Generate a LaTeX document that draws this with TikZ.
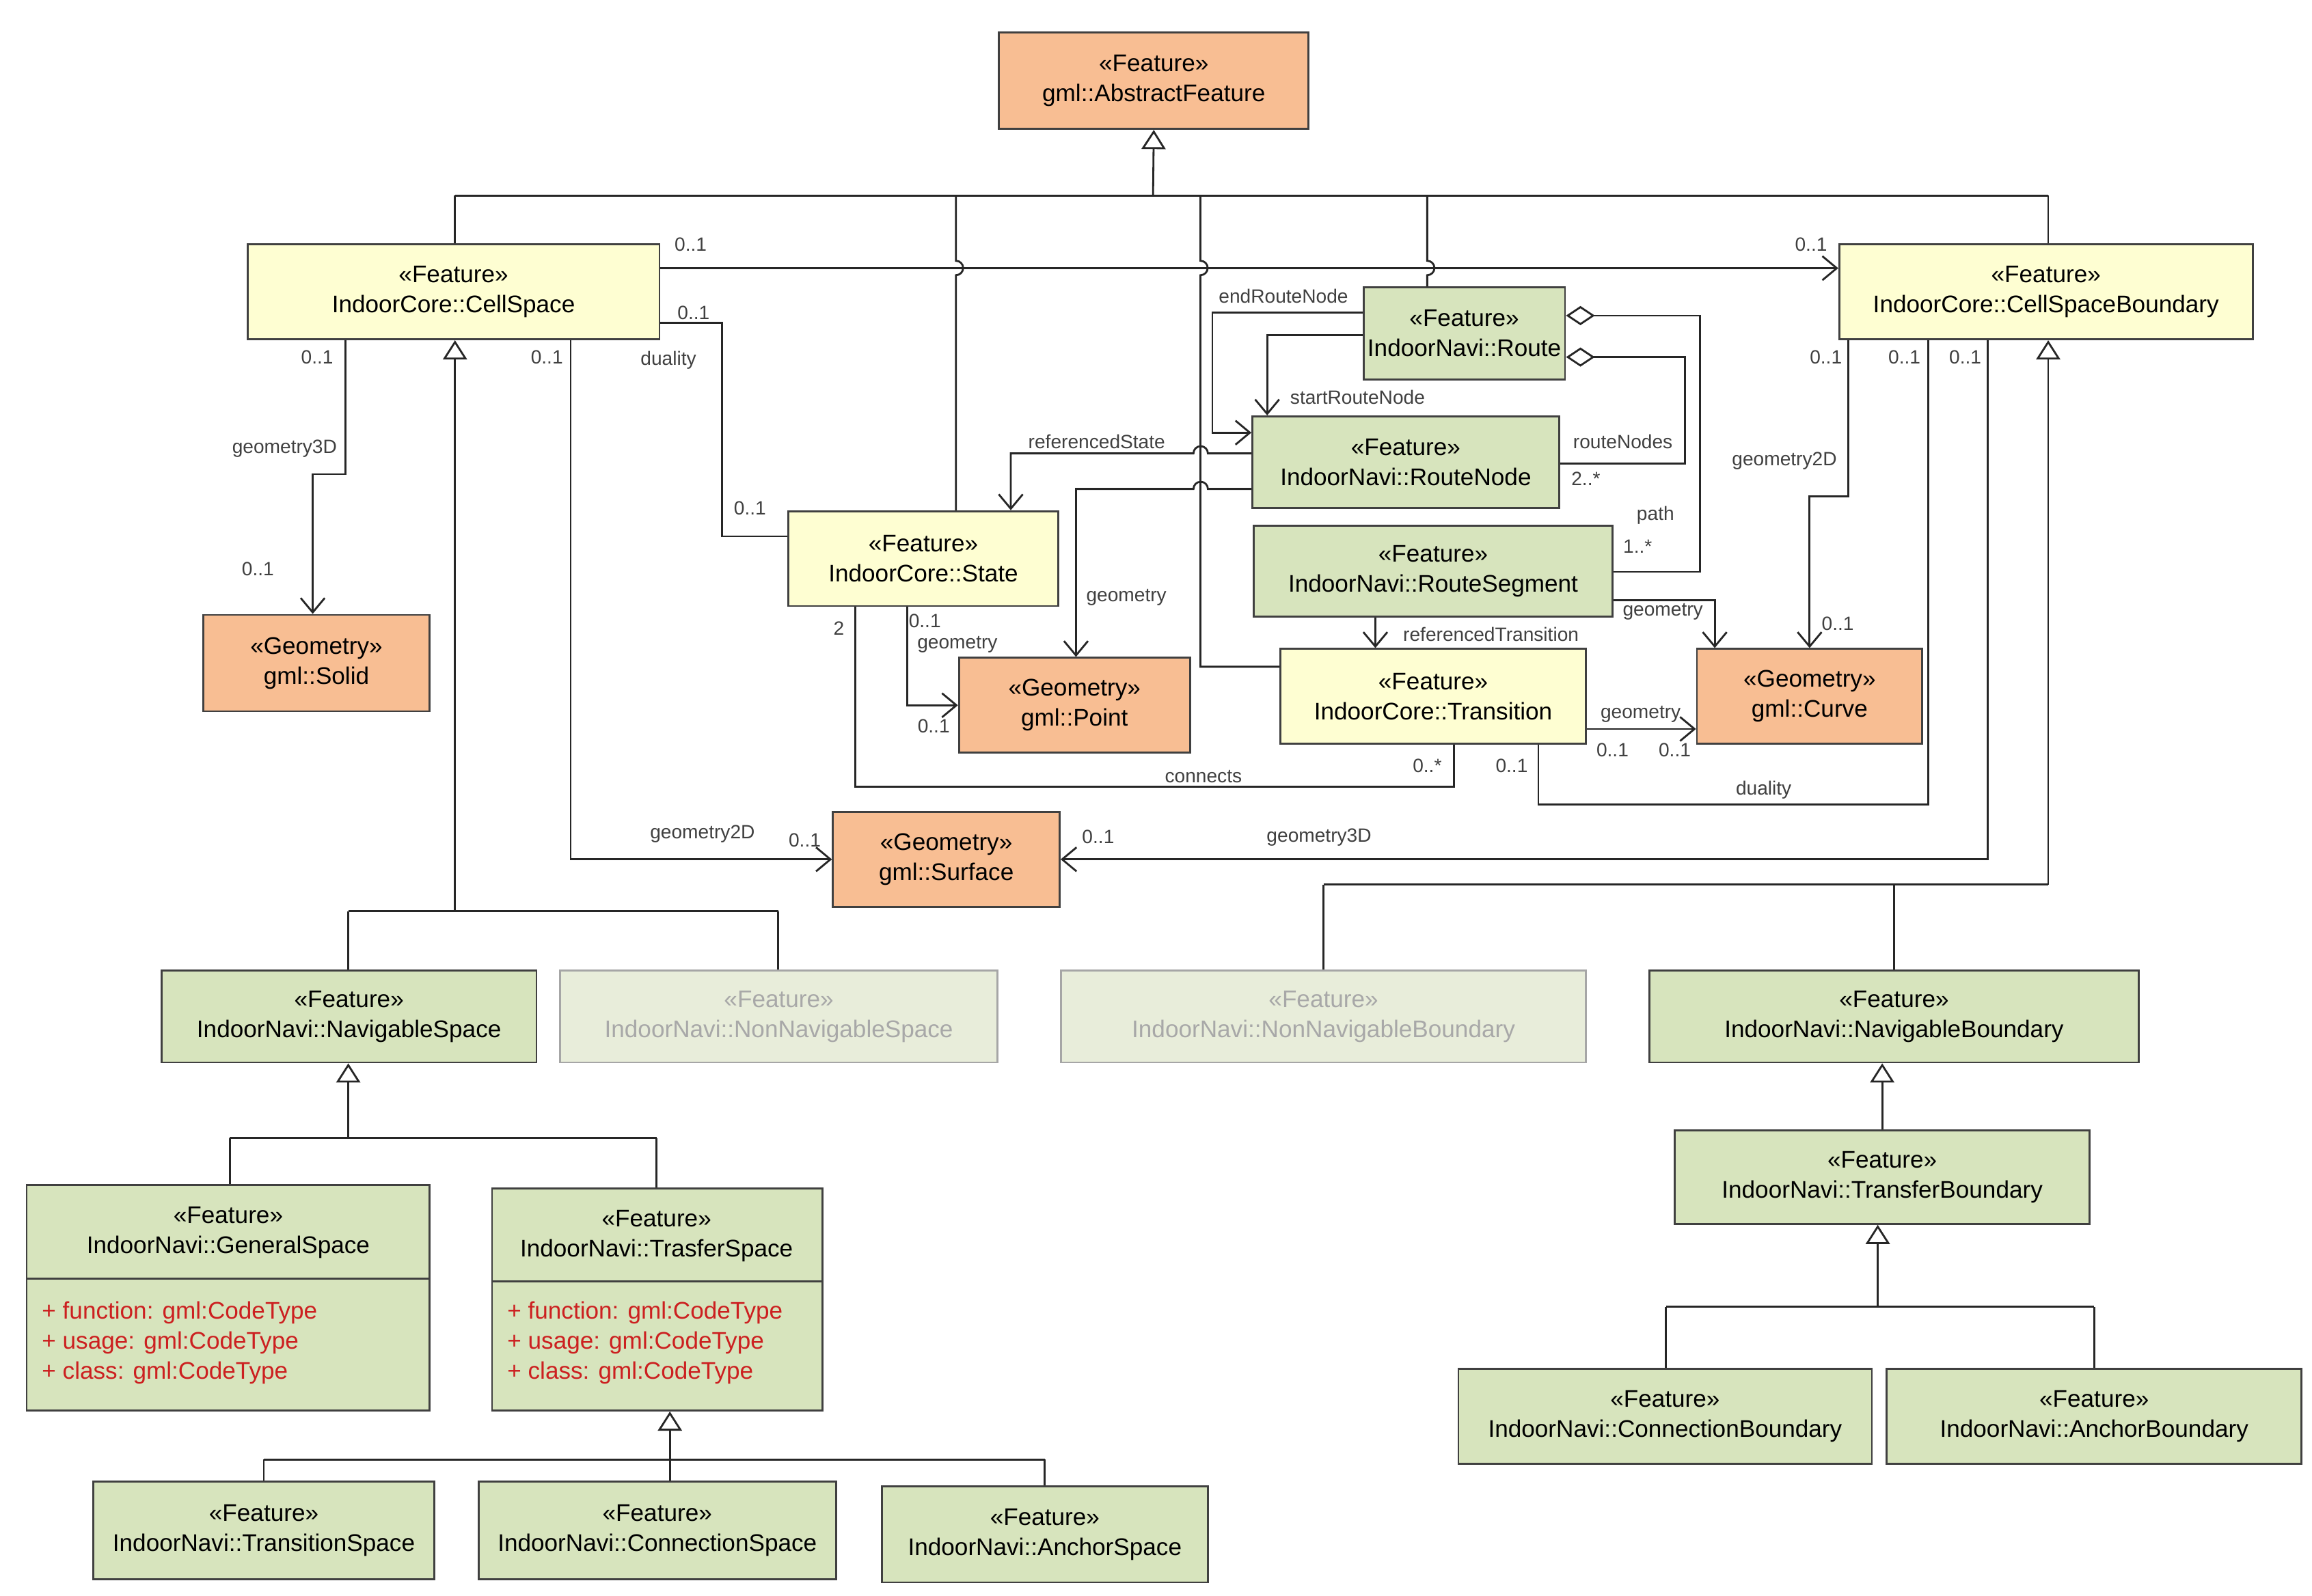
\documentclass[tikz,border=0pt]{standalone}
\usepackage{fontspec}
\setmainfont{Liberation Sans}
\usetikzlibrary{arrows.meta,fit}
\definecolor{yel}{HTML}{FEFED2}
\definecolor{grn}{HTML}{D7E4BD}
\definecolor{org}{HTML}{F8BE93}
\definecolor{fadefill}{HTML}{E8EDDA}
\definecolor{fadetext}{HTML}{A8A8A8}
\definecolor{lbl}{HTML}{404040}
\definecolor{attr}{HTML}{CC2020}
\newcommand\mybox[7]{\node[#6, fit={(#2,#3) (#4,#5)}, inner sep=0pt] (#1) {};
 \node[align=center, font=\fontsize{10}{12.5}\selectfont, text=#1col, inner sep=0pt] (#1-t) at (#1.center) {#7};}
\begin{document}
\begin{tikzpicture}[x=0.02168cm,y=-0.02168cm,
 bx/.style={draw=black!75, line width=0.8pt},
 yb/.style={bx, fill=yel}, gb/.style={bx, fill=grn}, ob/.style={bx, fill=org},
 fb/.style={draw=black!35, line width=0.8pt, fill=fadefill},
 ln/.style={draw=black!85, line width=0.8pt},
 ar/.style={ln, -{Straight Barb[length=6pt,width=10pt]}},
 gen/.style={ln, -{Triangle[open,fill=white,length=8pt,width=10pt]}},
 agg/.style={ln, {Diamond[open,fill=white,length=12pt,width=8pt]}-},
 lb/.style={font=\fontsize{8}{9}\selectfont, text=lbl, inner sep=1pt},
 hop/.style={}]
\useasboundingbox[fill=white] (0,0) rectangle (1560,1077);
\def\blackcol{black}
\colorlet{afcol}{black}\colorlet{cscol}{black}\colorlet{csbcol}{black}\colorlet{routecol}{black}
\colorlet{rncol}{black}\colorlet{rscol}{black}\colorlet{stcol}{black}\colorlet{solcol}{black}
\colorlet{ptcol}{black}\colorlet{trcol}{black}\colorlet{cvcol}{black}\colorlet{sfcol}{black}
\colorlet{nscol}{black}\colorlet{nnscol}{fadetext}\colorlet{nnbcol}{fadetext}\colorlet{nbcol}{black}
\colorlet{tbcol}{black}\colorlet{cbcol}{black}\colorlet{abcol}{black}
\colorlet{tscol}{black}\colorlet{cspcol}{black}\colorlet{ascol}{black}
\colorlet{gscol}{black}\colorlet{tfcol}{black}

\mybox{af}{674}{22}{883}{87}{ob}{<<Feature>>\\gml::AbstractFeature}
\mybox{cs}{167}{165}{445}{229}{yb}{<<Feature>>\\IndoorCore::CellSpace}
\mybox{csb}{1241}{165}{1520}{229}{yb}{<<Feature>>\\IndoorCore::CellSpaceBoundary}
\mybox{route}{920}{194}{1056}{256}{gb}{<<Feature>>\\IndoorNavi::Route}
\mybox{rn}{845}{281}{1052}{343}{gb}{<<Feature>>\\IndoorNavi::RouteNode}
\mybox{rs}{846}{355}{1088}{416}{gb}{<<Feature>>\\IndoorNavi::RouteSegment}
\mybox{st}{532}{345}{714}{409}{yb}{<<Feature>>\\IndoorCore::State}
\mybox{sol}{137}{415}{290}{480}{ob}{<<Geometry>>\\gml::Solid}
\mybox{pt}{647}{444}{803}{508}{ob}{<<Geometry>>\\gml::Point}
\mybox{tr}{864}{438}{1070}{502}{yb}{<<Feature>>\\IndoorCore::Transition}
\mybox{cv}{1145}{438}{1297}{502}{ob}{<<Geometry>>\\gml::Curve}
\mybox{sf}{562}{548}{715}{612}{ob}{<<Geometry>>\\gml::Surface}
\mybox{ns}{109}{655}{362}{717}{gb}{<<Feature>>\\IndoorNavi::NavigableSpace}
\mybox{nns}{378}{655}{673}{717}{fb}{<<Feature>>\\IndoorNavi::NonNavigableSpace}
\mybox{nnb}{716}{655}{1070}{717}{fb}{<<Feature>>\\IndoorNavi::NonNavigableBoundary}
\mybox{nb}{1113}{655}{1443}{717}{gb}{<<Feature>>\\IndoorNavi::NavigableBoundary}
\mybox{tb}{1130}{763}{1410}{826}{gb}{<<Feature>>\\IndoorNavi::TransferBoundary}
\mybox{cb}{984}{924}{1263}{988}{gb}{<<Feature>>\\IndoorNavi::ConnectionBoundary}
\mybox{ab}{1273}{924}{1553}{988}{gb}{<<Feature>>\\IndoorNavi::AnchorBoundary}
\mybox{ts}{63}{1000}{293}{1066}{gb}{<<Feature>>\\IndoorNavi::TransitionSpace}
\mybox{csp}{323}{1000}{564}{1066}{gb}{<<Feature>>\\IndoorNavi::ConnectionSpace}
\mybox{as}{595}{1003}{815}{1068}{gb}{<<Feature>>\\IndoorNavi::AnchorSpace}
% classes with attributes
\node[gb, fit={(18,800) (290,952)}, inner sep=0pt] (gs) {};
\draw[bx] (18,863) -- (290,863);
\node[align=center, font=\fontsize{10}{12.5}\selectfont] (gs-t) at (154,832) {<<Feature>>\\IndoorNavi::GeneralSpace};
\node[align=left, anchor=north west, text=attr, font=\fontsize{10}{12.6}\selectfont, inner sep=0pt] (gs-a) at (28,878) {+ function: gml:CodeType\\+ usage: gml:CodeType\\+ class: gml:CodeType};
\node[gb, fit={(332,802) (555,952)}, inner sep=0pt] (tf) {};
\draw[bx] (332,865) -- (555,865);
\node[align=center, font=\fontsize{10}{12.5}\selectfont] (tf-t) at (443,834) {<<Feature>>\\IndoorNavi::TrasferSpace};
\node[align=left, anchor=north west, text=attr, font=\fontsize{10}{12.6}\selectfont, inner sep=0pt] (tf-a) at (342,878) {+ function: gml:CodeType\\+ usage: gml:CodeType\\+ class: gml:CodeType};

% generalization to AbstractFeature
\draw[ln] (307,132) -- (1382,132);
\draw[gen] (778,132) -- (af.south);
\draw[ln] (307,132) -- (307,0 |- cs.north);
\draw[ln] (1382,132) -- (1382,0 |- csb.north);
\draw[ln] (645,132) -- (645,176) arc(90:-90:3pt) -- (645,0 |- st.north);
\draw[ln] (963,132) -- (963,176) arc(90:-90:3pt) -- (963,0 |- route.north);
\draw[ln] (810,132) -- (810,176) arc(90:-90:3pt) -- (810,450) -- (tr.west |- 0,450);

% CellSpace associations
\draw[ar] (cs.east |- 0,181) -- (csb.west |- 0,181);
\node[lb] at (466,165) {0..1};
\node[lb] at (1222,165) {0..1};
\draw[ln] (cs.east |- 0,218) -- (487,218) -- (487,362) -- (st.west |- 0,362);
\node[lb] at (468,211) {0..1};
\node[lb] at (451,243) {duality};
\node[lb] at (506,343) {0..1};
\draw[ar] (233,0 |- cs.south) -- (233,320) -- (211,320) -- (211,0 |- sol.north);
\node[lb] at (214,241) {0..1};
\node[lb] at (192,303) {geometry3D};
\node[lb] at (174,384) {0..1};
\draw[ar] (385,0 |- cs.south) -- (385,580) -- (sf.west |- 0,580);
\node[lb] at (369,241) {0..1};
\node[lb] at (474,563) {geometry2D};
\node[lb] at (543,567) {0..1};

% CellSpaceBoundary associations
\draw[ar] (1341,0 |- csb.south) -- (1341,580) -- (sf.east |- 0,580);
\node[lb] at (1326,241) {0..1};
\node[lb] at (890,565) {geometry3D};
\node[lb] at (741,565) {0..1};
\draw[ln] (1301,0 |- csb.south) -- (1301,543) -- (1038,543) -- (1038,0 |- tr.south);
\node[lb] at (1285,241) {0..1};
\node[lb] at (1190,533) {duality};
\node[lb] at (1020,517) {0..1};
\draw[ar] (1247,0 |- csb.south) -- (1247,335) -- (1221,335) -- (1221,0 |- cv.north);
\node[lb] at (1232,241) {0..1};
\node[lb] at (1204,311) {geometry2D};
\node[lb] at (1240,421) {0..1};

% CellSpaceBoundary generalization
\draw[ln] (893,597) -- (1382,597);
\draw[gen] (1382,597) -- (1382,0 |- csb.south);
\draw[ln] (893,597) -- (893,0 |- nnb.north);
\draw[ln] (1278,597) -- (1278,0 |- nb.north);
% CellSpace generalization
\draw[ln] (235,615) -- (525,615);
\draw[gen] (307,615) -- (307,0 |- cs.south);
\draw[ln] (235,615) -- (235,0 |- ns.north);
\draw[ln] (525,615) -- (525,0 |- nns.north);
% NavigableSpace generalization
\draw[ln] (155,768) -- (443,768);
\draw[gen] (235,768) -- (235,0 |- ns.south);
\draw[ln] (155,768) -- (155,0 |- gs.north);
\draw[ln] (443,768) -- (443,0 |- tf.north);
% TrasferSpace generalization
\draw[ln] (178,985) -- (705,985);
\draw[gen] (452,985) -- (452,0 |- tf.south);
\draw[ln] (178,985) -- (178,0 |- ts.north);
\draw[ln] (452,985) -- (452,0 |- csp.north);
\draw[ln] (705,985) -- (705,0 |- as.north);
% Boundary generalizations
\draw[gen] (tb.north -| 1270,0) -- (1270,0 |- nb.south);
\draw[ln] (1124,882) -- (1413,882);
\draw[gen] (1267,882) -- (1267,0 |- tb.south);
\draw[ln] (1124,882) -- (1124,0 |- cb.north);
\draw[ln] (1413,882) -- (1413,0 |- ab.north);

% Route associations
\draw[ar] (route.west |- 0,211) -- (818,211) -- (818,292) -- (rn.west |- 0,292);
\node[lb] at (866,200) {endRouteNode};
\draw[ar] (route.west |- 0,226) -- (855,226) -- (855,0 |- rn.north);
\node[lb] at (916,268) {startRouteNode};
\draw[agg] (route.east |- 0,241) -- (1137,241) -- (1137,313) -- (rn.east |- 0,313);
\node[lb] at (1095,298) {routeNodes};
\node[lb] at (1070,323) {2..*};
\draw[agg] (route.east |- 0,213) -- (1147,213) -- (1147,386) -- (rs.east |- 0,386);
\node[lb] at (1117,348) {path};
\node[lb] at (1105,369) {1..*};
% RouteNode
\draw[ar] (rn.west |- 0,306) -- (815,306) arc(0:180:3pt) -- (682,306) -- (682,0 |- st.north);
\node[lb] at (740,298) {referencedState};
\draw[ar] (rn.west |- 0,330) -- (815,330) arc(0:180:3pt) -- (726,330) -- (726,0 |- pt.north);
\node[lb] at (760,403) {geometry};
% RouteSegment
\draw[ar] (rs.east |- 0,405) -- (1157,405) -- (1157,0 |- cv.north);
\node[lb] at (1122,413) {geometry};
\draw[ar] (928,0 |- rs.south) -- (928,0 |- tr.north);
\node[lb] at (1006,428) {referencedTransition};
% Transition
\draw[ar] (tr.east |- 0,492) -- (cv.west |- 0,492);
\node[lb] at (1107,482) {geometry};
\node[lb] at (1088,506) {0..1};
\node[lb] at (1130,506) {0..1};
% State
\draw[ar] (612,0 |- st.south) -- (612,476) -- (pt.west |- 0,476);
\node[lb] at (624,419) {0..1};
\node[lb] at (646,435) {geometry};
\node[lb] at (630,490) {0..1};
\draw[ln] (577,0 |- st.south) -- (577,531) -- (981,531) -- (981,0 |- tr.south);
\node[lb] at (566,424) {2};
\node[lb] at (812,524) {connects};
\node[lb] at (963,517) {0..*};
\end{tikzpicture}
\end{document}
